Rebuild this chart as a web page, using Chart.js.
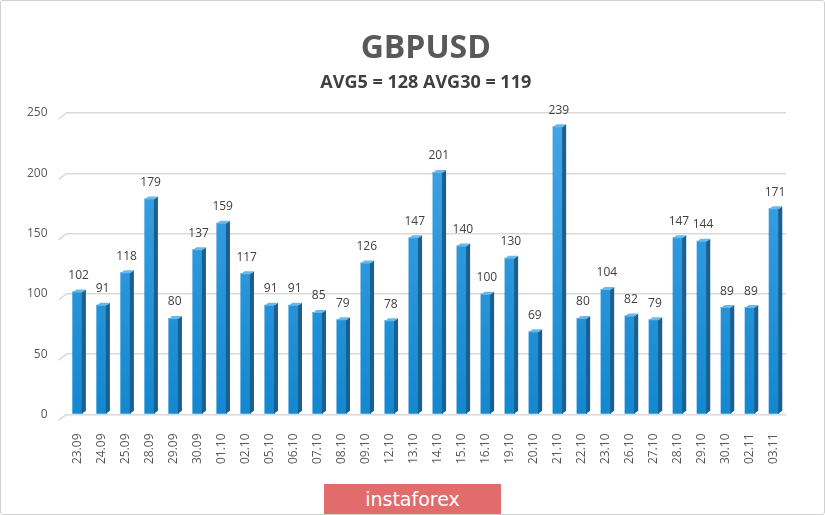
<!DOCTYPE html>
<html>
<head>
<meta charset="utf-8">
<script src="https://cdn.jsdelivr.net/npm/chart.js@4"></script>
<style>
  body { margin: 0; background: #fff; }
  #wrap { position: relative; width: 825px; height: 515px; }
  #c { position: absolute; left: 0; top: 0; }
  #frame { position: absolute; left: 0; top: 0; width: 823px; height: 513px; border: 1px solid #d0d0d0; border-radius: 3px; }
  #brand { position: absolute; left: 324px; top: 484px; width: 177px; height: 30px; background: #e26b6c;
    color: #fff; font-family: "DejaVu Sans", sans-serif; font-size: 19px; line-height: 30px; text-align: center; }
</style>
</head>
<body>
<div id="wrap">
  <canvas id="c" width="825" height="515"></canvas>
  <div id="frame"></div>
  <div id="brand">instaforex</div>
</div>
<script>
const dates = ["23.09","24.09","25.09","28.09","29.09","30.09","01.10","02.10","05.10","06.10",
  "07.10","08.10","09.10","12.10","13.10","14.10","15.10","16.10","19.10","20.10",
  "21.10","22.10","23.10","26.10","27.10","28.10","29.10","30.10","02.11","03.11"];
const ranges = [102,91,118,179,80,137,159,117,91,91,85,79,126,78,147,201,140,100,130,69,239,80,104,82,79,147,144,89,89,171];
const yTicks = [0,50,100,150,200,250];
const titleText = "GBPUSD";
const subText = "AVG5 = 128 AVG30 = 119";

// slanted left ends of the grid lines (fake 3D floor)
const gridSlant = {
    id: "gridSlant",
    beforeDatasetsDraw(chart){
        let ctx = chart.ctx, y = chart.scales.y, left = chart.chartArea.left;
        ctx.save();
        ctx.strokeStyle = "#d9d9d9";
        ctx.lineWidth = 1.5;
        yTicks.forEach(v => {
            let py = y.getPixelForValue(v);
            ctx.beginPath();
            ctx.moveTo(left - 7, py + 6);
            ctx.lineTo(left + 1, py);
            ctx.stroke();
        });
        ctx.restore();
    }
};

// darker side face + value labels on top of every bar
const barDecor = {
    id: "barDecor",
    afterDatasetsDraw(chart){
        let ctx = chart.ctx;
        let meta = chart.getDatasetMeta(0);
        ctx.save();
        meta.data.forEach((bar, i) => {
            let w = bar.width;
            let right = bar.x + w/2;
            ctx.fillStyle = "#1a5f8e";
            ctx.beginPath();
            ctx.moveTo(right - 1, bar.y + 1);
            ctx.lineTo(right + 3, bar.y - 2);
            ctx.lineTo(right + 3, bar.base - 3);
            ctx.lineTo(right - 1, bar.base);
            ctx.closePath();
            ctx.fill();
            ctx.fillStyle = "#6ab8ea";
            ctx.beginPath();
            ctx.moveTo(bar.x - w/2, bar.y + 1);
            ctx.lineTo(bar.x - w/2 + 4, bar.y - 2);
            ctx.lineTo(right + 3, bar.y - 2);
            ctx.lineTo(right - 1, bar.y + 1);
            ctx.closePath();
            ctx.fill();
            ctx.fillStyle = "#404040";
            ctx.font = "12px 'Open Sans', sans-serif";
            ctx.textAlign = "center";
            ctx.textBaseline = "middle";
            ctx.fillText(ranges[i], bar.x + 1, bar.y - 16);
        });
        ctx.restore();
    }
};

function barFill(c){
    let area = c.chart.chartArea;
    if(!area) return "#2e95d8";
    let g = c.chart.ctx.createLinearGradient(0, area.top, 0, area.bottom);
    g.addColorStop(0, "#45a5e6");
    g.addColorStop(1, "#1288d0");
    return g;
}

const ctx = document.getElementById("c").getContext("2d");
new Chart(ctx, {
    type: "bar",
    data: {
        labels: dates,
        datasets: [{
            data: ranges,
            backgroundColor: barFill,
            borderWidth: 0,
            barPercentage: 0.44,
            categoryPercentage: 1.0
        }]
    },
    options: {
        responsive: false,
        animation: false,
        layout: { padding: { left: 9, right: 39, top: 0, bottom: 40 } },
        plugins: {
            legend: { display: false },
            tooltip: { enabled: false },
            title: {
                display: true, text: titleText, color: "#595959", fullSize: false,
                font: { family: "'Open Sans', sans-serif", size: 32, weight: "bold" },
                padding: { top: 30, bottom: 4 }
            },
            subtitle: {
                display: true, text: subText, color: "#404040", fullSize: false,
                font: { family: "'Open Sans', sans-serif", size: 18, weight: "bold" },
                padding: { bottom: 19 }
            }
        },
        scales: {
            x: {
                grid: { display: false },
                border: { display: false },
                ticks: { color: "#595959", padding: 11, font: { family: "'Open Sans', sans-serif", size: 12 },
                    minRotation: 90, maxRotation: 90, autoSkip: false }
            },
            y: {
                min: 0, max: 250,
                afterBuildTicks(axis){ axis.ticks = yTicks.map(v => ({ value: v })); },
                grid: { color: "#d9d9d9", lineWidth: 1.5, drawTicks: false },
                border: { display: false },
                ticks: { color: "#595959", padding: 18, font: { family: "'Open Sans', sans-serif", size: 12 } }
            }
        }
    },
    plugins: [gridSlant, barDecor]
});
</script>
</body>
</html>
